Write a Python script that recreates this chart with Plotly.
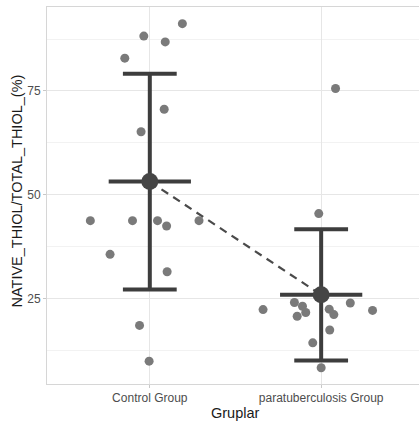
import plotly.graph_objects as go

# ---- data ----
groups = ["Control Group", "paratuberculosis Group"]
control_values = [91.2, 88.2, 86.8, 82.9, 70.6, 65.2, 43.8, 43.8, 43.8, 42.5, 43.8, 35.7, 31.5, 18.6, 10.0]
control_jitter = [0.19, -0.035, 0.09, -0.146, 0.084, -0.051, -0.347, -0.101, 0.045, 0.098, 0.287, -0.232, 0.101, -0.06, -0.004]
para_values = [45.5, 22.4, 24.1, 23.2, 21.7, 20.8, 22.5, 21.2, 24.0, 22.2, 17.5, 14.4, 8.4, 75.6]
para_jitter = [-0.014, -0.339, -0.156, -0.109, -0.09, -0.14, 0.047, 0.074, 0.17, 0.3, 0.05, -0.049, 0.0, 0.084]
group_means = [53.2, 25.95]
group_sds = [25.95, 15.8]
y_ticks = [25, 50, 75]

FONT = "Liberation Sans, Arial, sans-serif"
DARK = "#3d3d3d"
CAP_HALF = 0.157
MEAN_HALF = 0.24

fig = go.Figure()

# jittered points
pts_x = [0 + j for j in control_jitter] + [1 + j for j in para_jitter]
pts_y = control_values + para_values
fig.add_trace(go.Scatter(x=pts_x, y=pts_y, mode="markers",
                         marker=dict(size=9, color="#7a7a7a", line=dict(width=0)),
                         hoverinfo="skip"))

# dashed line between means
fig.add_trace(go.Scatter(x=[0, 1], y=group_means, mode="lines",
                         line=dict(color="#4a4a4a", width=2.2, dash="8px,6px"),
                         hoverinfo="skip"))

# error bars (mean +/- sd), caps and horizontal mean bar
ex, ey = [], []
for i, (m, s) in enumerate(zip(group_means, group_sds)):
    lo, hi = m - s, m + s
    ex += [i, i, None, i - CAP_HALF, i + CAP_HALF, None, i - CAP_HALF, i + CAP_HALF, None,
           i - MEAN_HALF, i + MEAN_HALF, None]
    ey += [lo, hi, None, hi, hi, None, lo, lo, None, m, m, None]
fig.add_trace(go.Scatter(x=ex, y=ey, mode="lines",
                         line=dict(color=DARK, width=4), hoverinfo="skip"))

# mean markers
fig.add_trace(go.Scatter(x=[0, 1], y=group_means, mode="markers",
                         marker=dict(size=17, color="#454545", line=dict(width=0)),
                         hoverinfo="skip"))

fig.update_layout(
    width=419, height=423,
    margin=dict(l=47, r=0, t=7, b=39),
    paper_bgcolor="white", plot_bgcolor="white",
    showlegend=False,
    font=dict(family=FONT, size=12, color="#4d4d4d"),
    xaxis=dict(range=[-0.6, 1.571], tickvals=[0, 1], ticktext=groups,
               showgrid=True, gridcolor="#e6e6e6", gridwidth=1,
               ticks="outside", ticklen=3, tickcolor="#c8c8c8",
               showline=True, linecolor="#d6d6d6", linewidth=1, mirror=True,
               zeroline=False, tickfont=dict(size=12, color="#4d4d4d")),
    yaxis=dict(range=[4.5, 95.2], tickvals=y_ticks,
               showgrid=True, gridcolor="#e6e6e6", gridwidth=1,
               minor=dict(dtick=12.5, tick0=0, showgrid=True, gridcolor="#f2f2f2", gridwidth=0.6),
               ticks="outside", ticklen=3, tickcolor="#c8c8c8",
               showline=True, linecolor="#d6d6d6", linewidth=1,
               zeroline=False, tickfont=dict(size=12, color="#4d4d4d")),
    annotations=[
        dict(text="Gruplar", xref="paper", yref="paper", x=0.5, y=0,
             xanchor="center", yanchor="middle", xshift=2.5, yshift=-28.5,
             showarrow=False, font=dict(family=FONT, size=14.5, color="#1a1a1a")),
        dict(text="NATIVE_THIOL/TOTAL_THIOL_(%)", xref="paper", yref="paper", x=0, y=0.5,
             xanchor="center", yanchor="middle", xshift=-31, yshift=4, textangle=-90,
             showarrow=False, font=dict(family=FONT, size=14.5, color="#1a1a1a")),
    ],
)

fig.write_html("out.html")
